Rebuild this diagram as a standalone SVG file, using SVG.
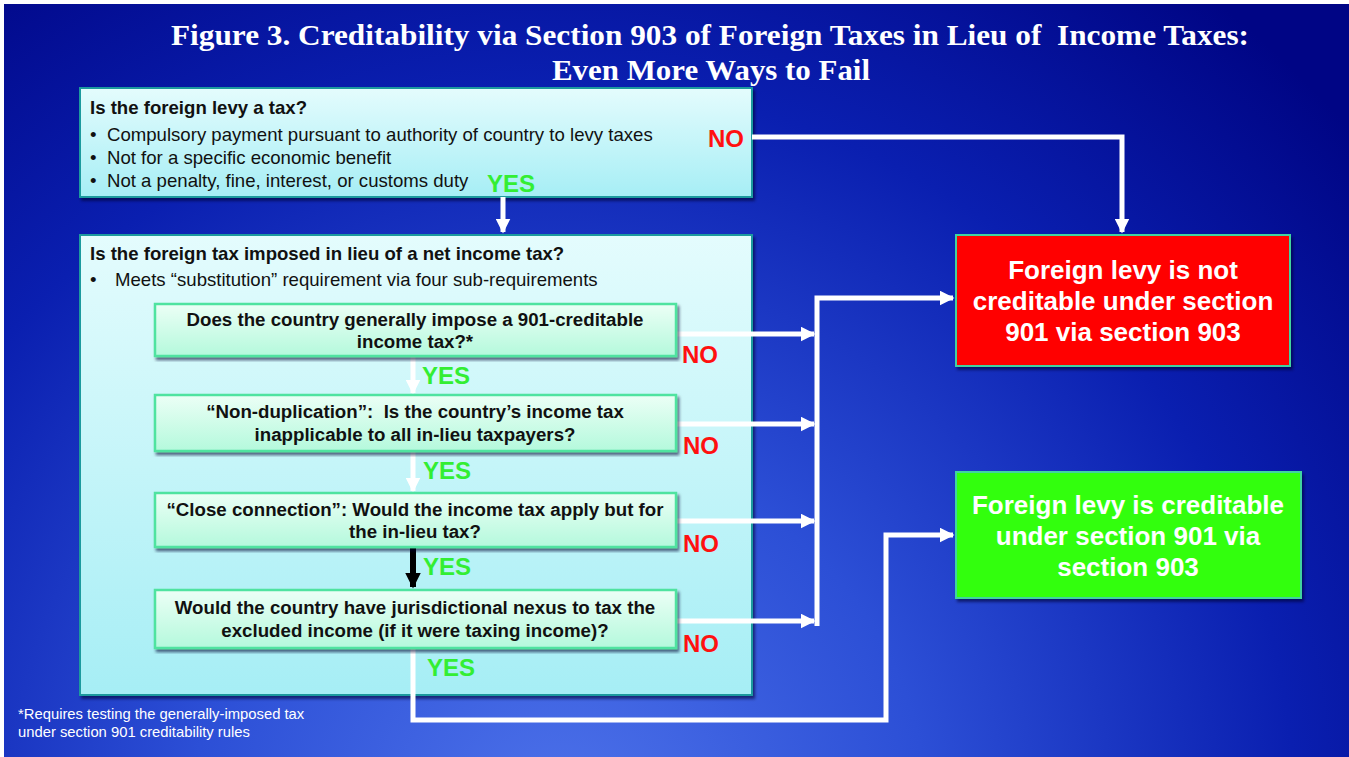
<svg xmlns="http://www.w3.org/2000/svg" width="1349" height="757" viewBox="0 0 1349 757">
<defs>
<radialGradient id="bg" cx="560" cy="820" r="1050" gradientUnits="userSpaceOnUse">
<stop offset="0" stop-color="#4d72ea"/>
<stop offset="0.35" stop-color="#2c4fd6"/>
<stop offset="0.7" stop-color="#0a1fb0"/>
<stop offset="1" stop-color="#000585"/>
</radialGradient>
<linearGradient id="cyan" x1="0" y1="0" x2="0" y2="1">
<stop offset="0" stop-color="#e4fcfd"/>
<stop offset="1" stop-color="#a6eef5"/>
</linearGradient>
<linearGradient id="mint" x1="0" y1="0" x2="0" y2="1">
<stop offset="0" stop-color="#ecfff6"/>
<stop offset="1" stop-color="#b4f9dc"/>
</linearGradient>
<filter id="sh" x="-5%" y="-5%" width="110%" height="115%">
<feDropShadow dx="2" dy="3" stdDeviation="1.5" flood-color="#000033" flood-opacity="0.6"/>
</filter>
<marker id="aw" viewBox="0 0 10 10" refX="9" refY="5" markerWidth="3" markerHeight="3" orient="auto" markerUnits="strokeWidth">
<path d="M0,0 L10,5 L0,10 z" fill="#ffffff"/>
</marker>
<marker id="ab" viewBox="0 0 10 10" refX="9" refY="5" markerWidth="2.6" markerHeight="2.6" orient="auto" markerUnits="strokeWidth">
<path d="M0,0 L10,5 L0,10 z" fill="#000000"/>
</marker>
</defs>
<style>
.title{font-family:"Liberation Serif","Times New Roman",serif;font-weight:bold;font-size:29px;fill:#ffffff;text-anchor:middle}
.q{font-family:"Liberation Sans",Arial,sans-serif;font-weight:bold;font-size:18.6px;fill:#111111}
.b{font-family:"Liberation Sans",Arial,sans-serif;font-size:18.6px;fill:#111111}
.sq{font-family:"Liberation Sans",Arial,sans-serif;font-weight:bold;font-size:18.7px;fill:#111111;text-anchor:middle}
.res{font-family:"Liberation Sans",Arial,sans-serif;font-weight:bold;font-size:26px;fill:#ffffff;text-anchor:middle}
.no{font-family:"Liberation Sans",Arial,sans-serif;font-weight:bold;font-size:24px;fill:#ff1010}
.yes{font-family:"Liberation Sans",Arial,sans-serif;font-weight:bold;font-size:24px;fill:#33ee33}
.fn{font-family:"Liberation Sans",Arial,sans-serif;font-size:14.8px;fill:#ffffff}
.pre{white-space:pre}
.big{fill:url(#cyan);stroke:#1f9a9e;stroke-width:2}
.sub{fill:url(#mint);stroke:#4fe3a0;stroke-width:2.5}
.wl{fill:none;stroke:#ffffff;stroke-width:5}
</style>
<rect x="0" y="0" width="1349" height="757" fill="#ffffff"/>
<rect x="4" y="4" width="1345" height="753" fill="url(#bg)"/>
<g id="title">
<text class="title pre" xml:space="preserve" x="710" y="45" textLength="1078" lengthAdjust="spacingAndGlyphs">Figure 3. Creditability via Section 903 of Foreign Taxes in Lieu of  Income Taxes:</text>
<text class="title" x="711" y="80" textLength="318" lengthAdjust="spacingAndGlyphs">Even More Ways to Fail</text>
</g>
<g id="box-tax">
<rect class="big" x="80" y="88" width="672" height="109" filter="url(#sh)"/>
<text class="q" x="90" y="114">Is the foreign levy a tax?</text>
<text class="b" x="90" y="141">•</text><text class="b" x="107" y="141">Compulsory payment pursuant to authority of country to levy taxes</text>
<text class="b" x="90" y="164">•</text><text class="b" x="107" y="164">Not for a specific economic benefit</text>
<text class="b" x="90" y="187">•</text><text class="b" x="107" y="187">Not a penalty, fine, interest, or customs duty</text>
</g>
<g id="box-inlieu">
<rect class="big" x="80" y="235" width="672" height="460" filter="url(#sh)"/>
<text class="q" x="90" y="260">Is the foreign tax imposed in lieu of a net income tax?</text>
<text class="b" x="90" y="286">•</text><text class="b" x="115" y="286">Meets “substitution” requirement via four sub-requirements</text>
</g>
<g id="connectors">
<path class="wl" d="M503,197 V232" marker-end="url(#aw)"/>
<path class="wl" d="M752,137 H1122 V232" marker-end="url(#aw)"/>
<path class="wl" d="M413,356 V393" marker-end="url(#aw)"/>
<path class="wl" d="M413,451 V491" marker-end="url(#aw)"/>
<path d="M413,547 V587" fill="none" stroke="#000000" stroke-width="6" marker-end="url(#ab)"/>
<path class="wl" d="M413,648 V720 H886 V535 H953" marker-end="url(#aw)"/>
<path class="wl" d="M676,334 H814" marker-end="url(#aw)"/>
<path class="wl" d="M676,424 H814" marker-end="url(#aw)"/>
<path class="wl" d="M676,521 H814" marker-end="url(#aw)"/>
<path class="wl" d="M676,621 H814" marker-end="url(#aw)"/>
<path class="wl" d="M817,626 V298 H953" marker-end="url(#aw)"/>
</g>
<g id="sub1">
<rect class="sub" x="155" y="304" width="521" height="52" filter="url(#sh)"/>
<text class="sq" x="415" y="326">Does the country generally impose a 901-creditable</text>
<text class="sq" x="415" y="348">income tax?*</text>
</g>
<g id="sub2">
<rect class="sub" x="155" y="395" width="521" height="56" filter="url(#sh)"/>
<text class="sq pre" xml:space="preserve" x="415" y="418">“Non-duplication”:  Is the country’s income tax</text>
<text class="sq" x="415" y="441">inapplicable to all in-lieu taxpayers?</text>
</g>
<g id="sub3">
<rect class="sub" x="155" y="493" width="521" height="54" filter="url(#sh)"/>
<text class="sq" x="415" y="516">“Close connection”: Would the income tax apply but for</text>
<text class="sq" x="415" y="538">the in-lieu tax?</text>
</g>
<g id="sub4">
<rect class="sub" x="155" y="590" width="521" height="58" filter="url(#sh)"/>
<text class="sq" x="415" y="614">Would the country have jurisdictional nexus to tax the</text>
<text class="sq" x="415" y="637">excluded income (if it were taxing income)?</text>
</g>
<g id="labels">
<text class="no" x="708" y="147">NO</text>
<text class="yes" x="487" y="192">YES</text>
<text class="yes" x="422" y="384">YES</text>
<text class="yes" x="423" y="479">YES</text>
<text class="yes" x="423" y="575">YES</text>
<text class="yes" x="427" y="676">YES</text>
<text class="no" x="682" y="363">NO</text>
<text class="no" x="683" y="454">NO</text>
<text class="no" x="683" y="552">NO</text>
<text class="no" x="683" y="652">NO</text>
</g>
<g id="not-creditable">
<rect x="956" y="235" width="334" height="131" fill="#ff0000" stroke="#3fd3a0" stroke-width="2" filter="url(#sh)"/>
<text class="res" x="1123" y="279">Foreign levy is not</text>
<text class="res" x="1123" y="310">creditable under section</text>
<text class="res" x="1123" y="341">901 via section 903</text>
</g>
<g id="creditable">
<rect x="956" y="472" width="345" height="126" fill="#33ff11" stroke="#3fd3a0" stroke-width="2" filter="url(#sh)"/>
<text class="res" x="1128" y="514">Foreign levy is creditable</text>
<text class="res" x="1128" y="545">under section 901 via</text>
<text class="res" x="1128" y="576">section 903</text>
</g>
<g id="footnote">
<text class="fn" x="18" y="719">*Requires testing the generally-imposed tax</text>
<text class="fn" x="18" y="737">under section 901 creditability rules</text>
</g>
</svg>
